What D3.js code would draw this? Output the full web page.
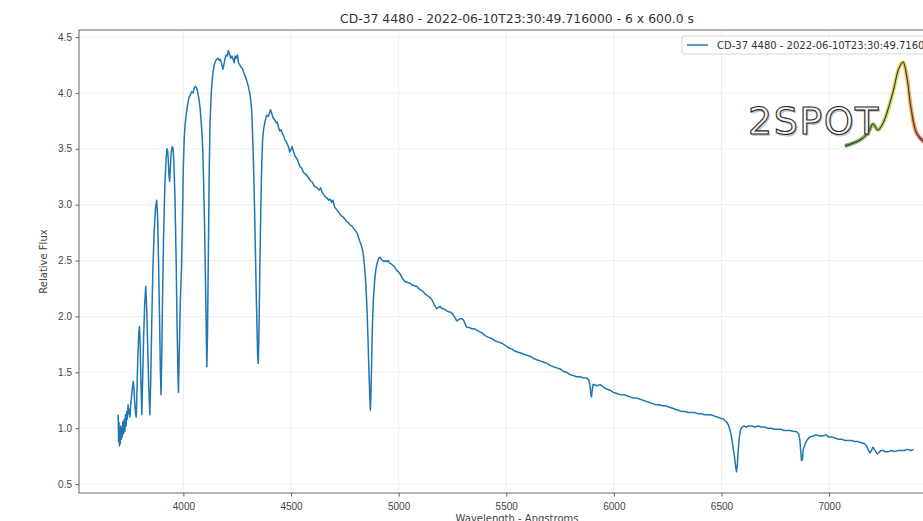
<!DOCTYPE html>
<html>
<head>
<meta charset="utf-8">
<script src="https://cdn.jsdelivr.net/npm/d3@7"></script>
<style>
  body { margin: 0; background: #fff; }
  #chart svg { display: block; overflow: hidden; font-family: "DejaVu Sans", sans-serif; }
  .grid line { stroke: #ebebeb; stroke-width: 0.8; }
  .axis .domain { display: none; }
  .axis line { stroke: #666; }
  .axis text { fill: #444; font-size: 10px; }
  .spine { fill: none; stroke: #666; stroke-width: 1; }
  .spectrum { fill: none; stroke: #1f77b4; stroke-width: 1.5; stroke-linejoin: round; }
</style>
</head>
<body>
<div id="chart"></div>
<script>
// chart text
const titleText = "CD-37 4480 - 2022-06-10T23:30:49.716000 - 6 x 600.0 s";
const legendLabel = "CD-37 4480 - 2022-06-10T23:30:49.716000";
const xLabel = "Wavelength - Angstroms";
const yLabel = "Relative Flux";

// tick values
const xTicks = [4000, 4500, 5000, 5500, 6000, 6500, 7000];
const yTicks = [0.5, 1.0, 1.5, 2.0, 2.5, 3.0, 3.5, 4.0, 4.5];

// spectrum: [wavelength (A), relative flux]
// high order Balmer lines at the blue end
const blueEnd = [
  [3697, 1.12], [3699, 0.88], [3701, 1.05], [3703, 0.84], [3705, 0.98], [3707, 0.86],
  [3709, 1.02], [3711, 0.90], [3713, 1.00], [3716, 0.92], [3719, 1.06], [3722, 0.95],
  [3725, 1.08], [3728, 0.97], [3731, 1.12], [3734, 1.02], [3737, 1.15], [3740, 1.08],
  [3743, 1.21], [3746, 1.13], [3749, 1.17], [3752, 1.10], [3755, 1.20], [3759, 1.28],
  [3763, 1.36], [3767, 1.42], [3770, 1.36], [3774, 1.22], [3778, 1.13], [3781, 1.10],
  [3784, 1.30], [3788, 1.62], [3793, 1.86], [3796, 1.91], [3799, 1.75], [3803, 1.40],
  [3807, 1.12], [3810, 1.38], [3815, 1.80], [3820, 2.10], [3825, 2.27], [3829, 2.10],
  [3834, 1.75], [3839, 1.38], [3844, 1.12], [3848, 1.40], [3853, 1.95], [3858, 2.40],
  [3864, 2.75], [3870, 2.96], [3876, 3.04], [3880, 2.90], [3885, 2.45], [3890, 1.90],
  [3893, 1.52], [3896, 1.30], [3899, 1.58], [3903, 2.15], [3908, 2.72], [3914, 3.18],
  [3920, 3.42], [3924, 3.50], [3927, 3.48], [3930, 3.40], [3933, 3.26], [3936, 3.21],
  [3939, 3.30], [3943, 3.46], [3948, 3.52], [3952, 3.50], [3956, 3.38], [3961, 3.05],
  [3966, 2.55], [3970, 2.00], [3974, 1.55], [3977, 1.32], [3981, 1.70], [3986, 2.15],
  [3991, 2.42], [3995, 2.80], [4000, 3.35], [4004, 3.60], [4008, 3.72], [4014, 3.82],
  [4020, 3.90], [4026, 3.96], [4032, 3.98], [4038, 4.01], [4045, 4.00], [4050, 4.04],
  [4055, 4.06], [4060, 4.05], [4065, 4.02], [4071, 3.96], [4078, 3.86], [4085, 3.68],
  [4090, 3.50], [4094, 3.20], [4098, 2.85], [4102, 2.40], [4106, 1.90], [4109, 1.55]
];

// H-delta to H-gamma and the top of the continuum
const violetPart = [
  [4112, 1.85], [4116, 2.55], [4120, 3.30], [4124, 3.75], [4130, 4.02], [4136, 4.16],
  [4142, 4.24], [4148, 4.28], [4155, 4.30], [4161, 4.31], [4167, 4.29], [4172, 4.30],
  [4178, 4.26], [4183, 4.21], [4188, 4.25], [4194, 4.31], [4199, 4.34], [4204, 4.33],
  [4209, 4.38], [4214, 4.35], [4220, 4.31], [4225, 4.33], [4231, 4.30], [4236, 4.27],
  [4240, 4.33], [4245, 4.31], [4251, 4.34], [4256, 4.27], [4262, 4.25], [4268, 4.23],
  [4274, 4.22], [4279, 4.19], [4285, 4.16], [4291, 4.13], [4297, 4.09], [4302, 4.06],
  [4308, 4.00], [4314, 3.92], [4318, 3.82], [4322, 3.60], [4326, 3.35], [4330, 3.02],
  [4334, 2.65], [4338, 2.25], [4342, 1.90], [4345, 1.65], [4348, 1.58], [4351, 1.85],
  [4355, 2.40], [4360, 3.00], [4364, 3.35], [4368, 3.58], [4373, 3.68], [4380, 3.75],
  [4387, 3.80], [4394, 3.79], [4400, 3.82], [4405, 3.85], [4410, 3.82], [4416, 3.78],
  [4421, 3.77], [4427, 3.75], [4432, 3.73], [4436, 3.74], [4441, 3.70], [4447, 3.66],
  [4453, 3.67], [4459, 3.64], [4465, 3.62], [4471, 3.58], [4477, 3.57], [4483, 3.54],
  [4488, 3.52], [4494, 3.47], [4499, 3.49], [4505, 3.52], [4511, 3.48], [4517, 3.44],
  [4524, 3.42], [4530, 3.40], [4536, 3.37], [4542, 3.34], [4549, 3.33], [4555, 3.30],
  [4562, 3.28], [4570, 3.27], [4578, 3.25], [4585, 3.23], [4592, 3.21], [4600, 3.20],
  [4607, 3.17], [4614, 3.16], [4622, 3.15], [4630, 3.13], [4638, 3.15], [4645, 3.11],
  [4652, 3.09], [4660, 3.07], [4667, 3.06], [4675, 3.04], [4682, 3.05], [4689, 3.02],
  [4695, 3.04], [4702, 2.98], [4710, 2.96], [4718, 2.94], [4726, 2.92], [4734, 2.90],
  [4742, 2.89], [4751, 2.87], [4758, 2.85], [4766, 2.84], [4774, 2.82], [4782, 2.81],
  [4790, 2.79], [4798, 2.77], [4806, 2.75], [4812, 2.72], [4818, 2.68], [4824, 2.65]
];

// H-beta and the green continuum down to Na D
const greenPart = [
  [4829, 2.62], [4834, 2.58], [4838, 2.52], [4842, 2.44], [4846, 2.34], [4850, 2.20],
  [4854, 2.02], [4858, 1.78], [4862, 1.52], [4866, 1.28], [4869, 1.16], [4872, 1.35],
  [4875, 1.62], [4878, 1.90], [4882, 2.12], [4886, 2.25], [4891, 2.37], [4896, 2.44],
  [4902, 2.49], [4908, 2.52], [4914, 2.53], [4920, 2.51], [4926, 2.50], [4932, 2.49],
  [4938, 2.50], [4945, 2.49], [4952, 2.50], [4958, 2.48], [4965, 2.47], [4972, 2.46],
  [4978, 2.45], [4985, 2.43], [4992, 2.41], [4999, 2.40], [5007, 2.38], [5015, 2.35],
  [5022, 2.33], [5030, 2.31], [5038, 2.31], [5045, 2.30], [5053, 2.30], [5061, 2.28],
  [5069, 2.28], [5077, 2.27], [5084, 2.27], [5092, 2.25], [5100, 2.24], [5107, 2.23],
  [5115, 2.22], [5123, 2.20], [5131, 2.19], [5138, 2.18], [5146, 2.17], [5154, 2.15],
  [5162, 2.12], [5170, 2.09], [5177, 2.07], [5185, 2.08], [5193, 2.09], [5200, 2.07],
  [5208, 2.07], [5216, 2.06], [5224, 2.05], [5232, 2.04], [5240, 2.04], [5247, 2.03],
  [5255, 2.01], [5262, 1.99], [5270, 1.96], [5278, 1.97], [5286, 1.98], [5293, 1.98],
  [5301, 1.97], [5308, 1.94], [5314, 1.91], [5320, 1.90], [5330, 1.90], [5340, 1.89],
  [5350, 1.89], [5360, 1.88], [5370, 1.87], [5380, 1.86], [5390, 1.85], [5400, 1.83],
  [5410, 1.82], [5420, 1.81], [5435, 1.80], [5450, 1.78], [5465, 1.77], [5480, 1.76],
  [5495, 1.74], [5510, 1.72], [5525, 1.71], [5540, 1.69], [5555, 1.68], [5570, 1.67],
  [5585, 1.66], [5600, 1.65], [5615, 1.64], [5630, 1.62], [5645, 1.61], [5660, 1.60],
  [5675, 1.59], [5690, 1.58], [5705, 1.56], [5720, 1.55], [5735, 1.54], [5750, 1.53],
  [5765, 1.51], [5781, 1.50], [5796, 1.48], [5812, 1.47], [5828, 1.46], [5843, 1.46],
  [5858, 1.45], [5874, 1.45], [5884, 1.43], [5890, 1.37], [5893, 1.30], [5896, 1.28],
  [5899, 1.33], [5903, 1.39], [5908, 1.39], [5920, 1.38], [5936, 1.39], [5950, 1.37]
];

// red end: H-alpha, the telluric B band and the 7200 band
const redEnd = [
  [5966, 1.35], [5982, 1.34], [5998, 1.32], [6014, 1.31], [6029, 1.30], [6045, 1.30],
  [6060, 1.29], [6075, 1.28], [6090, 1.27], [6105, 1.27], [6120, 1.26], [6135, 1.25],
  [6150, 1.24], [6165, 1.23], [6180, 1.22], [6195, 1.21], [6210, 1.21], [6225, 1.20],
  [6240, 1.20], [6255, 1.19], [6270, 1.18], [6285, 1.17], [6300, 1.16], [6315, 1.15],
  [6330, 1.15], [6345, 1.14], [6360, 1.14], [6375, 1.14], [6390, 1.13], [6405, 1.13],
  [6420, 1.12], [6435, 1.12], [6450, 1.12], [6465, 1.11], [6480, 1.10], [6495, 1.09],
  [6510, 1.08], [6522, 1.06], [6532, 1.03], [6540, 0.98], [6547, 0.92], [6553, 0.84],
  [6558, 0.78], [6562, 0.72], [6566, 0.65], [6570, 0.61], [6574, 0.68], [6578, 0.80],
  [6583, 0.92], [6589, 0.99], [6596, 1.01], [6605, 1.02], [6615, 1.01], [6625, 1.02],
  [6640, 1.02], [6655, 1.01], [6670, 1.02], [6685, 1.01], [6700, 1.01], [6715, 1.00],
  [6730, 1.00], [6745, 0.99], [6760, 0.99], [6775, 0.99], [6790, 0.98], [6805, 0.98],
  [6820, 0.98], [6835, 0.97], [6848, 0.97], [6858, 0.95], [6864, 0.90], [6868, 0.80],
  [6872, 0.71], [6876, 0.72], [6880, 0.81], [6886, 0.84], [6893, 0.88], [6900, 0.90],
  [6910, 0.92], [6925, 0.93], [6940, 0.94], [6955, 0.93], [6970, 0.93], [6985, 0.94],
  [7000, 0.92], [7015, 0.92], [7030, 0.91], [7045, 0.90], [7060, 0.90], [7075, 0.89],
  [7090, 0.89], [7105, 0.89], [7120, 0.88], [7135, 0.88], [7150, 0.87], [7165, 0.86],
  [7175, 0.84], [7183, 0.80], [7190, 0.78], [7197, 0.80], [7204, 0.83], [7210, 0.81],
  [7217, 0.79], [7224, 0.77], [7231, 0.78], [7240, 0.80], [7250, 0.80], [7260, 0.79],
  [7275, 0.79], [7290, 0.80], [7305, 0.79], [7320, 0.80], [7335, 0.80], [7350, 0.80],
  [7365, 0.81], [7380, 0.80], [7393, 0.81]
];

const spectrum = [...blueEnd, ...violetPart, ...greenPart, ...redEnd];

// layout (the axes run past the right edge of the window, like the reference crop)
const width = 923;
const height = 521;
const margin = { top: 30, right: -32, bottom: 28, left: 79 };
const xDomain = [3515, 7585];
const yDomain = [0.42, 4.563];

const svg = d3
  .select("#chart")
  .append("svg")
  .attr("width", width)
  .attr("height", height)
  .attr("viewBox", [0, 0, width, height]);

const x = d3
  .scaleLinear()
  .domain(xDomain)
  .range([margin.left, width - margin.right]);

const y = d3
  .scaleLinear()
  .domain(yDomain)
  .range([height - margin.bottom, margin.top]);

const plotBottom = height - margin.bottom;
const plotRight = width - margin.right;

// grid
svg
  .append("g")
  .attr("class", "grid")
  .selectAll("line.v")
  .data(xTicks)
  .join("line")
  .attr("x1", (d) => x(d))
  .attr("x2", (d) => x(d))
  .attr("y1", margin.top)
  .attr("y2", plotBottom);

svg
  .append("g")
  .attr("class", "grid")
  .selectAll("line.h")
  .data(yTicks)
  .join("line")
  .attr("x1", margin.left)
  .attr("x2", plotRight)
  .attr("y1", (d) => y(d))
  .attr("y2", (d) => y(d));

// spectrum line
svg
  .append("defs")
  .append("clipPath")
  .attr("id", "plot-clip")
  .append("rect")
  .attr("x", margin.left)
  .attr("y", margin.top)
  .attr("width", plotRight - margin.left)
  .attr("height", plotBottom - margin.top);

const line = d3
  .line()
  .x((d) => x(d[0]))
  .y((d) => y(d[1]));

svg
  .append("path")
  .attr("class", "spectrum")
  .attr("clip-path", "url(#plot-clip)")
  .datum(spectrum)
  .attr("d", line);

// axes
svg
  .append("g")
  .attr("class", "axis x-axis")
  .attr("transform", `translate(0,${plotBottom})`)
  .call(
    d3.axisBottom(x).tickValues(xTicks).tickSize(3.5).tickPadding(6).tickFormat(d3.format("d"))
  );

svg
  .append("g")
  .attr("class", "axis y-axis")
  .attr("transform", `translate(${margin.left},0)`)
  .call(
    d3.axisLeft(y).tickValues(yTicks).tickSize(3.5).tickPadding(3.5).tickFormat(d3.format(".1f"))
  );

// spines
svg
  .append("rect")
  .attr("class", "spine")
  .attr("x", margin.left)
  .attr("y", margin.top)
  .attr("width", plotRight - margin.left)
  .attr("height", plotBottom - margin.top);

// title and axis labels
const plotCenterX = (margin.left + plotRight) / 2;

svg
  .append("text")
  .attr("x", plotCenterX)
  .attr("y", 23)
  .attr("text-anchor", "middle")
  .attr("font-size", 12.4)
  .attr("fill", "#333")
  .text(titleText);

svg
  .append("text")
  .attr("x", plotCenterX)
  .attr("y", 522)
  .attr("text-anchor", "middle")
  .attr("font-size", 10)
  .attr("fill", "#444")
  .text(xLabel);

svg
  .append("text")
  .attr("transform", `translate(47,${(margin.top + plotBottom) / 2}) rotate(-90)`)
  .attr("text-anchor", "middle")
  .attr("font-size", 10)
  .attr("fill", "#444")
  .text(yLabel);

// legend, upper right
const legend = svg.append("g").attr("class", "legend").attr("transform", "translate(682,36)");

legend
  .append("rect")
  .attr("width", 264)
  .attr("height", 18)
  .attr("rx", 2)
  .attr("fill", "#fff")
  .attr("fill-opacity", 0.85)
  .attr("stroke", "#d6d6d6");

legend
  .append("line")
  .attr("x1", 5)
  .attr("x2", 26)
  .attr("y1", 9)
  .attr("y2", 9)
  .attr("stroke", "#1f77b4")
  .attr("stroke-width", 1.5);

legend
  .append("text")
  .attr("x", 35)
  .attr("y", 12.5)
  .attr("font-size", 10)
  .attr("fill", "#333")
  .text(legendLabel);

// 2SPOT logo drawn over the plot
const logo = svg.append("g").attr("class", "logo");

const grad = svg
  .select("defs")
  .append("linearGradient")
  .attr("id", "logo-grad")
  .attr("gradientUnits", "userSpaceOnUse")
  .attr("x1", 845)
  .attr("x2", 925)
  .attr("y1", 0)
  .attr("y2", 0);
grad.append("stop").attr("offset", "0%").attr("stop-color", "#2e8b2e");
grad.append("stop").attr("offset", "45%").attr("stop-color", "#9acd32");
grad.append("stop").attr("offset", "70%").attr("stop-color", "#f0d020");
grad.append("stop").attr("offset", "85%").attr("stop-color", "#f08020");
grad.append("stop").attr("offset", "100%").attr("stop-color", "#d02020");

const logoCurve = [
  [845, 146], [860, 140], [868, 133], [873, 124], [878, 130], [884, 121],
  [893, 92], [899, 68], [903, 62], [907, 78], [911, 108], [917, 134], [928, 145]
];
const logoLine = d3.line().curve(d3.curveCatmullRom);

logo
  .append("path")
  .attr("d", logoLine(logoCurve))
  .attr("fill", "none")
  .attr("stroke", "url(#logo-grad)")
  .attr("stroke-width", 4)
  .attr("stroke-opacity", 0.75);

logo
  .append("path")
  .attr("d", logoLine(logoCurve))
  .attr("fill", "none")
  .attr("stroke", "#333")
  .attr("stroke-width", 1.1);

logo
  .append("text")
  .attr("x", 748)
  .attr("y", 134)
  .attr("font-size", 38)
  .attr("letter-spacing", 1.5)
  .attr("font-family", "DejaVu Sans, sans-serif")
  .attr("fill", "#888")
  .attr("opacity", 0.45)
  .attr("transform", "translate(1.5,1.5)")
  .text("2SPOT");

logo
  .append("text")
  .attr("x", 748)
  .attr("y", 134)
  .attr("font-size", 38)
  .attr("letter-spacing", 1.5)
  .attr("font-family", "DejaVu Sans, sans-serif")
  .attr("fill", "#f6f6f6")
  .attr("stroke", "#2a2a2a")
  .attr("stroke-width", 1.1)
  .text("2SPOT");
</script>
</body>
</html>
